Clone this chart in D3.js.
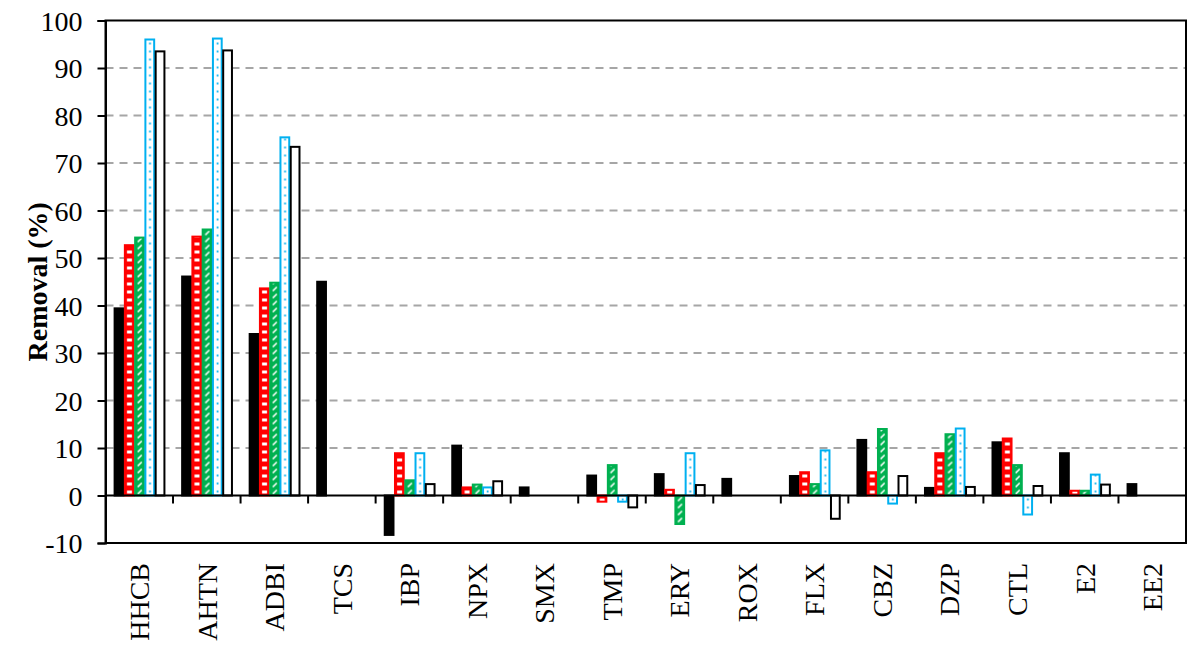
<!DOCTYPE html>
<head>
  <meta charset="utf-8">
  <style>
    body { margin: 0; background: #fff; }
    text { font-family: "Liberation Serif", "Times New Roman", serif; fill: #000; }
  </style>
</head>
<body>
<svg id="chart" width="1189" height="651"></svg>
<script src="https://d3js.org/d3.v7.min.js"></script>
<script>

// compounds on the x axis
var categories = ["HHCB","AHTN","ADBI","TCS","IBP","NPX","SMX","TMP","ERY","ROX","FLX","CBZ","DZP","CTL","E2","EE2"];

// removal (%) per series, null = no bar
var seriesBlack = [39.4, 46.1, 34.0, 45.0, -8.3, 10.5, 1.7, 4.2, 4.5, 3.5, 4.1, 11.7, 1.6, 11.2, 8.9, 2.4];
var seriesRed   = [52.7, 54.5, 43.6, null, 8.9, 1.7, null, -1.3, 1.2, null, 4.9, 4.9, 8.9, 12.0, 1.0, null];
var seriesGreen = [54.3, 56.0, 44.8, null, 3.2, 2.3, null, 6.4, -6.0, null, 2.4, 14.0, 12.9, 6.4, 1.0, null];
var seriesBlue  = [96.0, 96.2, 75.4, null, 8.9, 1.7, null, -1.3, 8.9, null, 9.5, -1.7, 14.1, -4.0, 4.4, null];
var seriesWhite = [93.5, 93.7, 73.4, null, 2.4, 3.0, null, -2.5, 2.2, null, -4.9, 4.1, 1.8, 2.0, 2.3, null];

var yTicks = [-10, 0, 10, 20, 30, 40, 50, 60, 70, 80, 90, 100];
var seriesKeys = ["black", "red", "green", "blue", "white"];

var series = [
  {key: "black", values: seriesBlack, fill: "#000", stroke: "#000"},
  {key: "red",   values: seriesRed,   fill: "url(#pat-red)",   stroke: "#ff0000"},
  {key: "green", values: seriesGreen, fill: "url(#pat-green)", stroke: "#00b050"},
  {key: "blue",  values: seriesBlue,  fill: "url(#pat-blue)",  stroke: "#00b0f0"},
  {key: "white", values: seriesWhite, fill: "#fff", stroke: "#000"}
];

var svg = d3.select("svg");
var plotL = 105.5, plotR = 1186, plotT = 20.5, plotB = 543;

var y = d3.scaleLinear().domain([-10, 100]).range([plotB, plotT]);
var x0 = d3.scaleBand().domain(categories).range([plotL, plotR])
    .paddingInner(0.24).paddingOuter(0.12);
var step = x0.step();
var x1 = d3.scaleBand().domain(seriesKeys).range([0, x0.bandwidth()]);
var bw = x1.bandwidth();
var y0 = y(0);

// fill patterns, one tile per category step so every bar gets the same column
var defs = svg.append("defs");
function pattern(id, key, h) {
  var p = defs.append("pattern")
      .attr("id", id)
      .attr("patternUnits", "userSpaceOnUse")
      .attr("x", x0(categories[0]) + x1(key))
      .attr("y", y0)
      .attr("width", step)
      .attr("height", h);
  return p;
}

var pr = pattern("pat-red", "red", 8);
pr.append("rect").attr("width", step).attr("height", 8).attr("fill", "#ff0000");
pr.append("rect").attr("x", bw / 2 - 2).attr("y", 3).attr("width", 5).attr("height", 3).attr("fill", "#fff");

var pg = pattern("pat-green", "green", 7);
pg.append("rect").attr("width", step).attr("height", 7).attr("fill", "#00b050");
pg.append("line").attr("x1", bw / 2 - 1.5).attr("y1", 5.5).attr("x2", bw / 2 + 2.5).attr("y2", 1.5)
    .attr("stroke", "#fff").attr("stroke-width", 1.6);

var pb = pattern("pat-blue", "blue", 8);
pb.append("rect").attr("width", step).attr("height", 8).attr("fill", "#fff");
pb.append("circle").attr("cx", bw / 2 + 0.5).attr("cy", 4).attr("r", 1.1).attr("fill", "#00b0f0");

// gridlines
svg.append("g")
  .selectAll("line")
  .data(yTicks.filter(function(d) { return d > 0 && d < 100; }))
  .enter().append("line")
    .attr("x1", plotL).attr("x2", plotR)
    .attr("y1", function(d) { return y(d); })
    .attr("y2", function(d) { return y(d); })
    .attr("stroke", "#a6a6a6")
    .attr("stroke-width", 2)
    .attr("stroke-dasharray", "8,6");

// bars
var groups = svg.append("g").selectAll("g")
  .data(series)
  .enter().append("g");

groups.selectAll("rect")
  .data(function(s) {
    return s.values.map(function(v, i) { return {cat: categories[i], v: v, s: s}; })
      .filter(function(d) { return d.v !== null; });
  })
  .enter().append("rect")
    .attr("x", function(d) { return x0(d.cat) + x1(d.s.key) + 1; })
    .attr("width", bw - 1.5)
    .attr("y", function(d) { return Math.min(y(d.v), y0); })
    .attr("height", function(d) { return Math.abs(y(d.v) - y0); })
    .attr("fill", function(d) { return d.s.fill; })
    .attr("stroke", function(d) { return d.s.stroke; })
    .attr("stroke-width", 2);

// frame
svg.append("rect")
  .attr("x", plotL).attr("y", plotT)
  .attr("width", plotR - plotL).attr("height", plotB - plotT)
  .attr("fill", "none").attr("stroke", "#000").attr("stroke-width", 2);

// y axis
var yAxis = svg.append("g")
  .attr("transform", "translate(" + plotL + ",0)")
  .call(d3.axisLeft(y).tickValues(yTicks).tickSize(8).tickPadding(15)
    .tickFormat(function(d) { return String(d); }));
yAxis.select(".domain").attr("stroke-width", 2);
yAxis.selectAll(".tick line").attr("stroke-width", 2);
yAxis.selectAll("text")
  .attr("font-family", "Liberation Serif")
  .attr("font-size", 28)
  .attr("dy", "0.34em");

// zero line with category ticks
svg.append("line")
  .attr("x1", plotL).attr("x2", plotR)
  .attr("y1", y0).attr("y2", y0)
  .attr("stroke", "#000").attr("stroke-width", 2);

svg.append("g").selectAll("line")
  .data(categories.slice(1))
  .enter().append("line")
    .attr("x1", function(d) { return x0(d) - step * 0.12; })
    .attr("x2", function(d) { return x0(d) - step * 0.12; })
    .attr("y1", y0).attr("y2", y0 + 8)
    .attr("stroke", "#000").attr("stroke-width", 2);

// category labels
svg.append("g").selectAll("text")
  .data(categories)
  .enter().append("text")
    .attr("transform", function(d) {
      return "translate(" + (x0(d) + x0.bandwidth() / 2) + "," + 563 + ") rotate(-90)";
    })
    .attr("text-anchor", "end")
    .attr("dy", "0.35em")
    .attr("font-size", 28)
    .text(function(d) { return d; });

// y title
svg.append("text")
  .attr("transform", "translate(" + 37 + "," + ((plotT + plotB) / 2) + ") rotate(-90)")
  .attr("text-anchor", "middle")
  .attr("dy", "0.35em")
  .attr("font-size", 28)
  .attr("font-weight", "bold")
  .text("Removal (%)");

</script>
</body>
